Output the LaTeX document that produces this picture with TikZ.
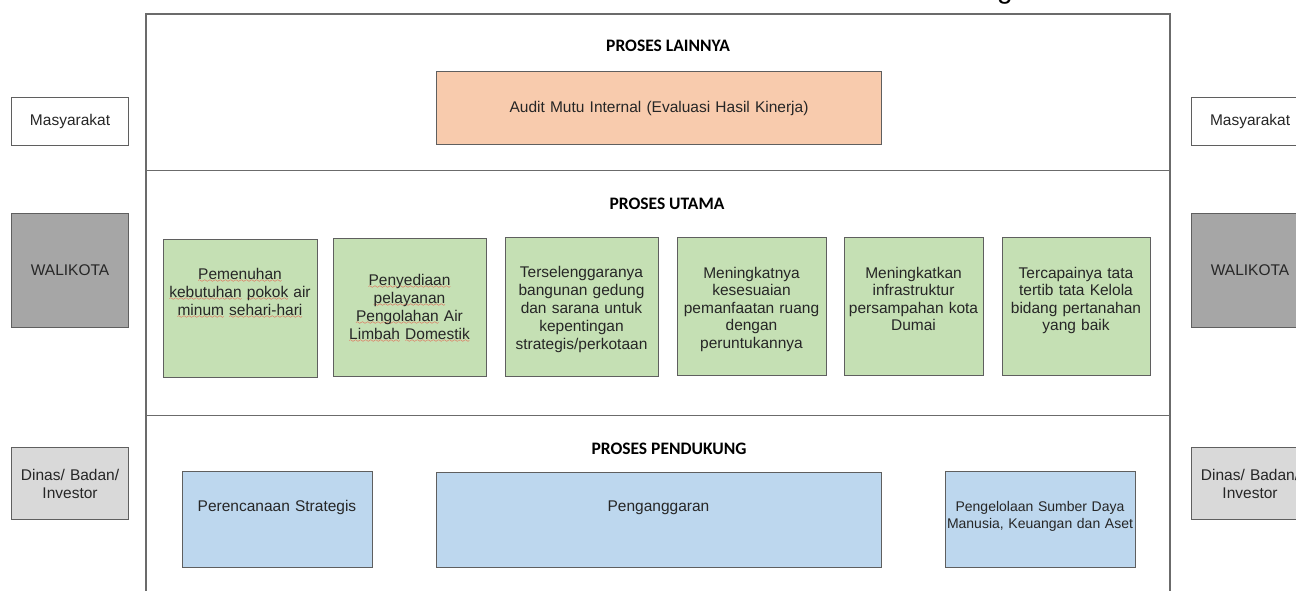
\documentclass[tikz,border=0pt]{standalone}
\usepackage{fontspec}
\setmainfont{Liberation Sans}
\newfontfamily\titlefont{Carlito}
\font\wavefont=lasy6
\newcommand\redwave[1]{\leavevmode\setbox0\hbox{#1}\rlap{\lower3.5pt\hbox to\wd0{\color{red}\xleaders\hbox{\wavefont\char58}\hfil}}#1}
\definecolor{framegray}{HTML}{6B6B6B}
\definecolor{boxgray}{HTML}{5F5F5F}
\definecolor{textc}{HTML}{262626}
\definecolor{auditfill}{HTML}{F8CBAD}
\definecolor{greenfill}{HTML}{C5E0B4}
\definecolor{bluefill}{HTML}{BDD7EE}
\definecolor{walifill}{HTML}{A6A6A6}
\definecolor{dinasfill}{HTML}{D9D9D9}
\tikzset{
  frameline/.style={draw=framegray, line width=1.5pt},
  boxshape/.style={draw=boxgray, line width=1.1pt, inner sep=0pt, anchor=north west, rectangle},
  sidebox/.style={boxshape, minimum width=117pt},
  txt/.style={font=\fontsize{15.5}{18}\selectfont, text=textc, align=center, text width=200pt, inner sep=0pt, anchor=base},
  txtb/.style={txt, font=\fontsize{15.5}{17.5}\selectfont},
  title/.style={font=\titlefont\bfseries\fontsize{17.5}{20}\selectfont, text=black, inner sep=0pt, anchor=base},
}
\begin{document}
\begin{tikzpicture}[x=1pt, y=-1pt]
\useasboundingbox (0,0) rectangle (1296,590);
\clip (0,0) rectangle (1296,590);
\fill[white] (0,0) rectangle (1296,590);

% fragment of text cut at the top
\node[font=\fontsize{28}{28}\selectfont, text=black, inner sep=0pt, anchor=base] (gfrag) at (1005,-2) {g};

% frame
\coordinate (fBL) at (146,595);
\coordinate (fTL) at (146,14);
\coordinate (fTR) at (1170,14);
\coordinate (fBR) at (1170,595);
\coordinate (d1L) at (146,170.5);
\coordinate (d1R) at (1170,170.5);
\coordinate (d2L) at (146,415.5);
\coordinate (d2R) at (1170,415.5);
\draw[frameline] (fBL) -- (fTL) -- (fTR) -- (fBR);
\draw[frameline] (d1L) -- (d1R);
\draw[frameline] (d2L) -- (d2R);

% side boxes
\node[sidebox, fill=white, minimum height=48pt] (mL) at (11,97) {};
\node[sidebox, fill=white, minimum height=48pt] (mR) at (1191,97) {};
\node[sidebox, fill=walifill, minimum height=114pt] (wL) at (11,213) {};
\node[sidebox, fill=walifill, minimum height=114pt] (wR) at (1191,213) {};
\node[sidebox, fill=dinasfill, minimum height=72pt] (dL) at (11,447) {};
\node[sidebox, fill=dinasfill, minimum height=72pt] (dR) at (1191,447) {};
\node[txt, anchor=center] (mLt) at (mL.center) {Masyarakat};
\node[txt, anchor=center] (mRt) at (mR.center) {Masyarakat};
\node[txt, anchor=center] (wLt) at (wL.center) {WALIKOTA};
\node[txt, anchor=center] (wRt) at (wR.center) {WALIKOTA};
\node[txt, anchor=center] (dLt) at (dL.center) {Dinas/ Badan/\\Investor};
\node[txt, anchor=center] (dRt) at (dR.center) {Dinas/ Badan/\\Investor};

% titles
\node[title] (t1) at (668,51.5) {PROSES LAINNYA};
\node[title] (t2) at (667,209.5) {PROSES UTAMA};
\node[title] (t3) at (669,454.5) {PROSES PENDUKUNG};

% proses lainnya
\node[boxshape, fill=auditfill, minimum width=445pt, minimum height=73pt] (audit) at (436,71) {};
\node[txt, text width=420pt, anchor=center] (auditt) at (audit.center) {Audit Mutu Internal (Evaluasi Hasil Kinerja)};

% proses utama
\node[boxshape, fill=greenfill, minimum width=154pt, minimum height=138pt] (g1) at (163,239) {};
\node[boxshape, fill=greenfill, minimum width=153pt, minimum height=138pt] (g2) at (333,238) {};
\node[boxshape, fill=greenfill, minimum width=153pt, minimum height=139pt] (g3) at (505,237) {};
\node[boxshape, fill=greenfill, minimum width=149pt, minimum height=138pt] (g4) at (677,237) {};
\node[boxshape, fill=greenfill, minimum width=139pt, minimum height=138pt] (g5) at (844,237) {};
\node[boxshape, fill=greenfill, minimum width=148pt, minimum height=138pt] (g6) at (1002,237) {};
\node[txt] (g1t) at (240,279) {\redwave{Pemenuhan}\\\redwave{kebutuhan} \redwave{pokok} air\\\redwave{minum} \redwave{sehari-hari}};
\node[txt] (g2t) at (409.5,285) {\redwave{Penyediaan}\\\redwave{pelayanan}\\\redwave{Pengolahan} Air\\\redwave{Limbah} \redwave{Domestik}};
\node[txt] (g3t) at (581.5,277) {Terselenggaranya\\bangunan gedung\\dan sarana untuk\\kepentingan\\strategis/perkotaan};
\node[txtb] (g4t) at (751.5,278) {Meningkatnya\\kesesuaian\\pemanfaatan ruang\\dengan\\peruntukannya};
\node[txtb] (g5t) at (913.5,278) {Meningkatkan\\infrastruktur\\persampahan kota\\Dumai};
\node[txtb] (g6t) at (1076,278) {Tercapainya tata\\tertib tata Kelola\\bidang pertanahan\\yang baik};

% proses pendukung
\node[boxshape, fill=bluefill, minimum width=190pt, minimum height=96pt] (b1) at (182,471) {};
\node[boxshape, fill=bluefill, minimum width=445pt, minimum height=95pt] (b2) at (436,472) {};
\node[boxshape, fill=bluefill, minimum width=190pt, minimum height=96pt] (b3) at (945,471) {};
\node[txt] (b1t) at (277,511) {Perencanaan Strategis};
\node[txt] (b2t) at (658.5,511) {Penganggaran};
\node[txt, font=\fontsize{14}{17}\selectfont] (b3t) at (1040,511) {Pengelolaan Sumber Daya\\Manusia, Keuangan dan Aset};
\end{tikzpicture}
\end{document}
